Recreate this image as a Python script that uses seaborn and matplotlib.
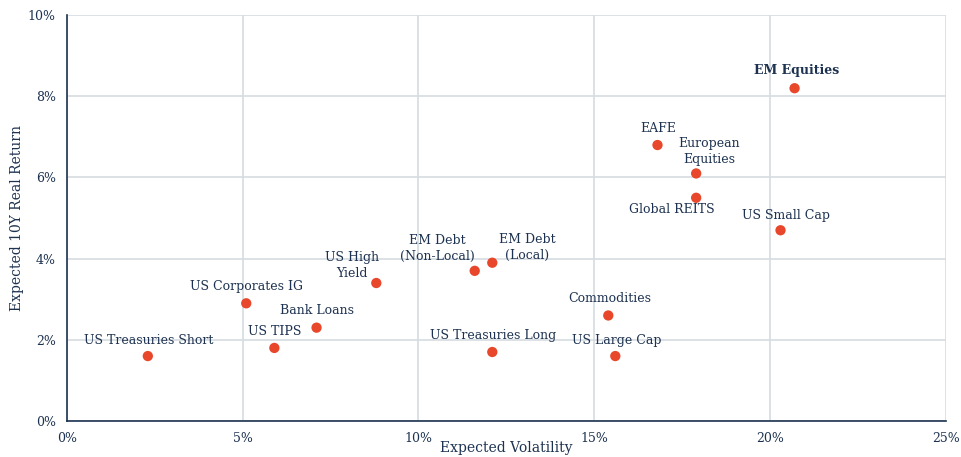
import pandas as pd
import seaborn as sns
import matplotlib.pyplot as plt
from matplotlib.ticker import FuncFormatter

# asset classes, expected volatility (%) and expected 10Y real return (%)
assets = [
    'US Treasuries Short', 'US Corporates IG', 'US TIPS', 'Bank Loans',
    'US High\nYield', 'EM Debt\n(Non-Local)', 'EM Debt\n(Local)',
    'US Treasuries Long', 'Commodities', 'US Large Cap', 'EAFE',
    'European\nEquities', 'Global REITS', 'US Small Cap', 'EM Equities',
]
volatility = [2.3, 5.1, 5.9, 7.1, 8.8, 11.6, 12.1, 12.1, 15.4, 15.6, 16.8, 17.9, 17.9, 20.3, 20.7]
real_return = [1.6, 2.9, 1.8, 2.3, 3.4, 3.7, 3.9, 1.7, 2.6, 1.6, 6.8, 6.1, 5.5, 4.7, 8.2]

# label offsets in pixels (dx, dy) relative to each dot
label_offsets = [
    (1, 16), (0, 17), (0, 16), (0, 17), (-24, 18), (-37, 22), (35, 15),
    (1, 16), (1, 17), (1, 16), (1, 17), (13, 22), (-24, -12), (5, 15), (2, 18),
]

NAVY = '#1d3250'
DOT = '#e8472b'
GRID = '#d5dbe1'

df = pd.DataFrame({'asset': assets, 'vol': volatility, 'ret': real_return})

sns.set_style('white')
plt.rcParams['font.family'] = ['DejaVu Serif']

fig = plt.figure(figsize=(9.61, 4.57), dpi=100)
ax = fig.add_axes([0.0697, 0.0788, 0.9144, 0.888])

sns.scatterplot(data=df, x='vol', y='ret', color=DOT, s=55, edgecolor='none', ax=ax, zorder=3)

for (name, x, y), (dx, dy) in zip(zip(assets, volatility, real_return), label_offsets):
    bold = name == 'EM Equities'
    ax.annotate(name, (x, y), xytext=(dx, dy), textcoords='offset pixels',
                ha='center', va='center', fontsize=9, color=NAVY,
                fontweight='bold' if bold else 'normal', linespacing=1.3)

ax.set_xlim(0, 25)
ax.set_ylim(0, 10)
ax.set_xticks(range(0, 26, 5))
ax.set_yticks(range(0, 11, 2))
pct = FuncFormatter(lambda v, _: f'{v:.0f}%')
ax.xaxis.set_major_formatter(pct)
ax.yaxis.set_major_formatter(pct)
ax.tick_params(axis='both', length=0, labelsize=9, colors=NAVY)
ax.tick_params(axis='x', pad=8)
ax.tick_params(axis='y', pad=8)

ax.grid(True, color=GRID, linewidth=1.2)
ax.set_axisbelow(True)
for side in ['top', 'right']:
    ax.spines[side].set_visible(False)
for side in ['left', 'bottom']:
    ax.spines[side].set_color(NAVY)
    ax.spines[side].set_linewidth(1.2)

ax.set_xlabel('Expected Volatility', fontsize=10, color=NAVY, va='center')
ax.xaxis.set_label_coords(0.5, -0.067)
ax.set_ylabel('Expected 10Y Real Return', fontsize=10, color=NAVY, va='center')
ax.yaxis.set_label_coords(-0.057, 0.5)

fig.savefig('out.png', dpi=100)
plt.close(fig)
